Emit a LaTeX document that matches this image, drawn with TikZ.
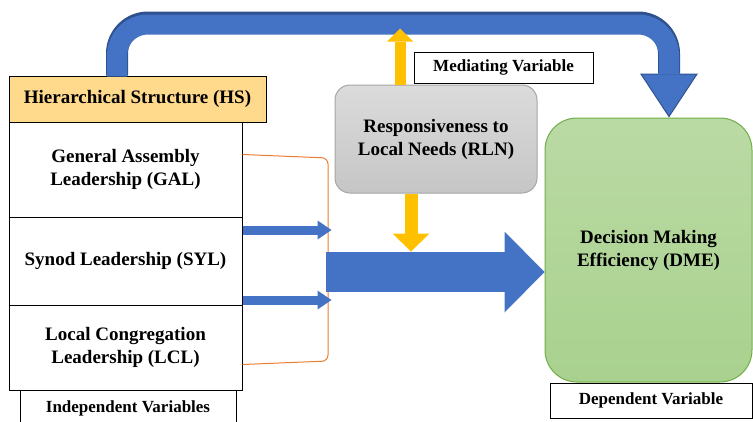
\documentclass[tikz,border=0pt]{standalone}
\usepackage{fontspec}
\setmainfont{LiberationSerif}[Extension=.ttf, UprightFont=*-Regular, BoldFont=*-Bold]
\usetikzlibrary{arrows.meta}
\definecolor{azul}{RGB}{68,114,196}
\definecolor{azuloscuro}{RGB}{47,82,143}
\definecolor{amarillo}{RGB}{255,192,0}
\definecolor{naranja}{RGB}{237,125,49}
\definecolor{dorado}{RGB}{255,217,140}
\definecolor{verde}{RGB}{169,209,142}
\definecolor{verdeborde}{RGB}{112,173,71}
\begin{document}
\begin{tikzpicture}[x=1pt, y=-1pt,
    every node/.style={draw, align=center, line width=1pt, inner sep=2pt,
        font=\bfseries\fontsize{19}{23}\selectfont},
    caja/.style={minimum width=233pt},
    etiqueta/.style={font=\bfseries\fontsize{17}{20}\selectfont},
    flecha/.style={azul, line width=#1}]
    \useasboundingbox (0,0) rectangle (753,421);

    % Nodos
    \node[fill=dorado, minimum width=257pt, minimum height=46pt] (HS) at (137.5,99) {Hierarchical Structure (HS)};
    \node[caja, minimum height=95pt] (GAL) at (125.5,169.5) {General Assembly\\Leadership (GAL)};
    \node[caja, minimum height=88pt] (SYL) at (125.5,261) {Synod Leadership (SYL)};
    \node[caja, minimum height=85pt] (LCL) at (125.5,347.5) {Local Congregation\\Leadership (LCL)};
    \node[etiqueta, minimum width=216pt, minimum height=36pt] (IV) at (128,408) {Independent Variables};
    \node[rounded corners=15pt, draw=gray!70, top color=gray!28, bottom color=gray!45,
        minimum width=202pt, minimum height=108pt] (RLN) at (436,139) {Responsiveness to\\Local Needs (RLN)};
    \node[etiqueta, minimum width=179pt, minimum height=31pt] (MV) at (503.5,67.5) {Mediating Variable};
    \node[rounded corners=32pt, draw=verdeborde, top color=verde!80, bottom color=verde,
        minimum width=207pt, minimum height=264pt] (DME) at (648.5,250) {Decision Making\\Efficiency (DME)};
    \node[etiqueta, minimum width=202pt, minimum height=35pt] (DV) at (651,400.5) {Dependent Variable};
    \coordinate (br) at (328,272);

    % Conexiones
    \draw[naranja, line width=1pt, rounded corners=6pt] ([yshift=15pt]GAL.east) -- (328,158) -- (br) -- (328,361) -- ([yshift=-17pt]LCL.east);
    \draw[flecha=22pt, azuloscuro, rounded corners=31pt, -{Triangle[width=58pt,length=44pt,line width=0pt]}] ([xshift=-20.5pt]HS.north) -- ++(0,-53) -| ([xshift=20.5pt]DME.north);
    \draw[flecha=20pt, rounded corners=31pt, -{Triangle[width=54pt,length=41pt,line width=0pt]}] ([xshift=-20.5pt,yshift=-1pt]HS.north) -- ++(0,-52) -| ([xshift=20.5pt,yshift=2pt]DME.north);
    \draw[flecha=40pt, -{Triangle[width=81pt,length=40pt,line width=0pt]}] ([xshift=-2pt]br) -- (br -| DME.west);
    \draw[flecha=9pt, -{Triangle[width=19pt,length=14pt,line width=0pt]}] ([yshift=31pt]SYL.east) -- ++(89,0);
    \draw[flecha=9pt, -{Triangle[width=19pt,length=14pt,line width=0pt]}] ([yshift=-39pt]SYL.east) -- ++(89,0);
    \draw[amarillo, line width=11pt, -{Triangle[width=26pt,length=13pt,line width=0pt]}] ([xshift=-36pt]RLN.north) -- ++(0,-56);
    \draw[amarillo, line width=13pt, -{Triangle[width=37pt,length=18pt,line width=0pt]}] ([xshift=-25pt]RLN.south) -- ++(0,58);

\end{tikzpicture}
\end{document}
